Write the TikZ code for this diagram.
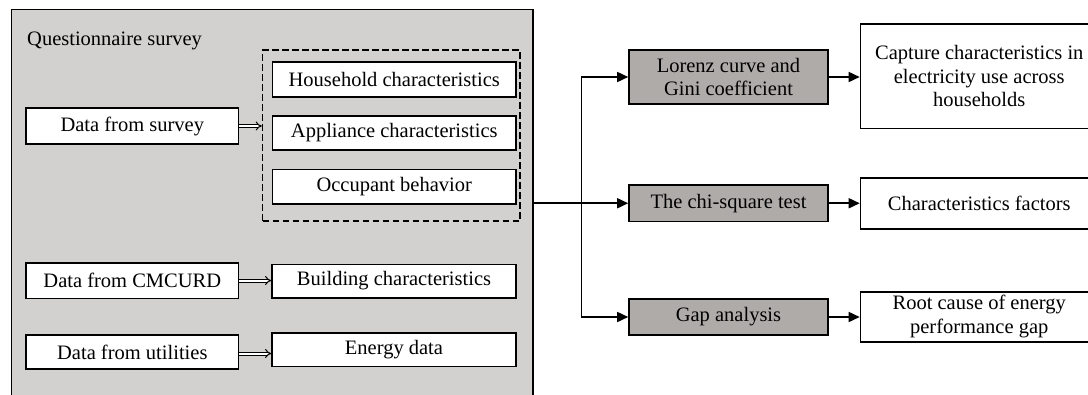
\documentclass[tikz,border=0pt]{standalone}
\usepackage{fontspec}
\setmainfont{Liberation Serif}
\usetikzlibrary{arrows.meta,positioning}
\definecolor{bggray}{RGB}{211,209,207}
\definecolor{boxgray}{RGB}{175,171,169}
\tikzset{
  txt/.style={font=\fontsize{20.5}{23.5}\selectfont, align=center, inner sep=0pt},
  wbox/.style={txt, draw=black, fill=white, line width=1.6pt},
  gbox/.style={txt, draw=black, fill=boxgray, line width=1.6pt},
  arr/.style={line width=1.6pt, -{Triangle[length=11pt,width=10pt]}},
  dbl/.style={double, double distance=2pt, line width=1pt, -{Implies}},
}
\begin{document}
\begin{tikzpicture}[x=1pt, y=-1pt]
\path[use as bounding box, clip] (0,0) rectangle (1088,394);
% big gray panel
\node[draw=black, fill=bggray, line width=1.3pt, minimum width=521.5pt, minimum height=410.5pt, inner sep=0pt] (qs) at (272.25,214.75) {};
\node[txt, anchor=base west] (qst) at (27,45) {Questionnaire survey};
% dashed group
\node[draw=black, line width=1.5pt, dash pattern=on 6.5pt off 3.5pt, minimum width=257.5pt, minimum height=171pt, inner sep=0pt] (grp) at (391.25,135.5) {};
\node[wbox, minimum width=243.5pt, minimum height=35pt] (hh) at (394.25,79.5) {Household characteristics};
\node[wbox, minimum width=243.5pt, minimum height=34pt] (app) at (394.25,133) {Appliance characteristics};
\node[wbox, minimum width=243.5pt, minimum height=34.5pt] (occ) at (394.25,186.75) {Occupant behavior};
% left data boxes
\node[wbox, minimum width=212.6pt, minimum height=36pt] (srv) at (132.3,126) {Data from survey};
\node[wbox, minimum width=212.6pt, minimum height=35.6pt] (cmc) at (132.3,280.5) {Data from CMCURD};
\node[wbox, minimum width=212.6pt, minimum height=34pt] (utl) at (132.3,352) {Data from utilities};
\node[wbox, minimum width=244pt, minimum height=33.4pt] (bld) at (394,281) {Building characteristics};
\node[wbox, minimum width=244pt, minimum height=33.8pt] (eng) at (394,349.6) {Energy data};
% double arrows
\draw[dbl] (srv.east) -- (srv.east -| grp.west);
\draw[dbl] (cmc.east) -- (cmc.east -| bld.west);
\draw[dbl] ([yshift=-1.5pt]utl.east) -- ([yshift=-1.5pt]utl.east -| eng.west);
% methods
\node[gbox, minimum width=199pt, minimum height=54pt] (lor) at (728.5,77) {Lorenz curve and\\Gini coefficient};
\node[gbox, minimum width=199pt, minimum height=36.5pt] (chi) at (728.5,203.25) {The chi-square test};
\node[gbox, minimum width=199pt, minimum height=36pt] (gap) at (728.5,317) {Gap analysis};
% results
\node[wbox, minimum width=237.5pt, minimum height=104.3pt] (cap) at (979.25,76.15) {Capture characteristics in\\electricity use across\\households};
\node[wbox, minimum width=237.5pt, minimum height=51pt] (chf) at (979.25,203.5) {Characteristics factors};
\node[wbox, minimum width=237.5pt, minimum height=50pt] (roc) at (979.25,316.7) {Root cause of energy\\performance gap};
% connectors
\coordinate (bus) at (581.5,203.25);
\draw[arr] (chi.west -| qs.east) -- (chi.west);
\draw[arr] (bus) |- (lor.west);
\draw[arr] (bus) |- (gap.west);
\draw[arr] (lor.east) -- (lor.east -| cap.west);
\draw[arr] (chi.east) -- (chi.east -| chf.west);
\draw[arr] (gap.east) -- (gap.east -| roc.west);
\end{tikzpicture}
\end{document}
